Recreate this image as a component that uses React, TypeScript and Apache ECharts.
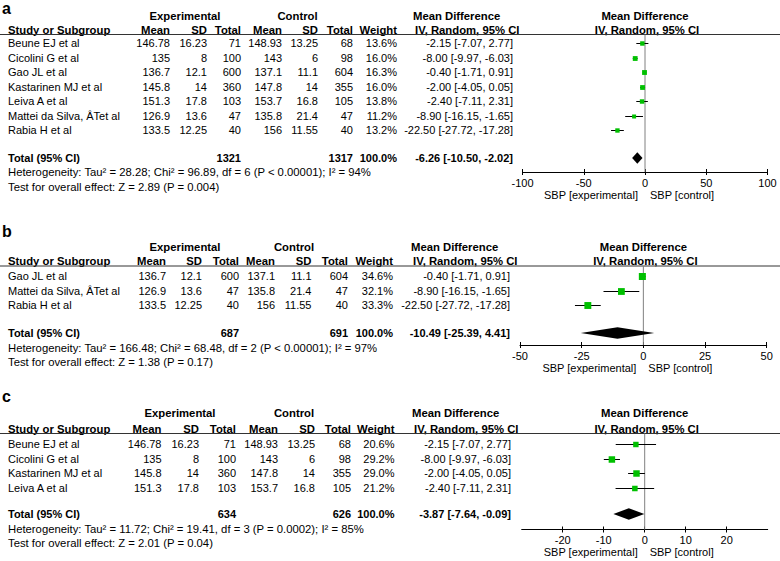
import React, { useEffect, useRef } from "react";
import * as echarts from "echarts";

// ---------------- data ----------------
const studyNames = [
  "Beune EJ et al",
  "Cicolini G et al",
  "Gao JL et al",
  "Kastarinen MJ et al",
  "Leiva A et al",
  "Mattei da Silva, ÂTet al",
  "Rabia H et al",
];
const expMean = [146.78, 135, 136.7, 145.8, 151.3, 126.9, 133.5];
const expSd = [16.23, 8, 12.1, 14, 17.8, 13.6, 12.25];
const expN = [71, 100, 600, 360, 103, 47, 40];
const ctlMean = [148.93, 143, 137.1, 147.8, 153.7, 135.8, 156];
const ctlSd = [13.25, 6, 11.1, 14, 16.8, 21.4, 11.55];
const ctlN = [68, 98, 604, 355, 105, 47, 40];
const meanDiff = [-2.15, -8.0, -0.4, -2.0, -2.4, -8.9, -22.5];
const ciLow = [-7.07, -9.97, -1.71, -4.05, -7.11, -16.15, -27.72];
const ciHigh = [2.77, -6.03, 0.91, 0.05, 2.31, -1.65, -17.28];

const panelLetters = ["a", "b", "c"];
const panelStudies = [
  [0, 1, 2, 3, 4, 5, 6],
  [2, 5, 6],
  [0, 1, 3, 4],
];
const panelWeights = [
  [13.6, 16.0, 16.3, 16.0, 13.8, 11.2, 13.2],
  [34.6, 32.1, 33.3],
  [20.6, 29.2, 29.0, 21.2],
];
const totalExpN = [1321, 687, 634];
const totalCtlN = [1317, 691, 626];
const totalMd = [-6.26, -10.49, -3.87];
const totalLow = [-10.5, -25.39, -7.64];
const totalHigh = [-2.02, 4.41, -0.09];
const heterogeneity = [
  "Heterogeneity: Tau² = 28.28; Chi² = 96.89, df = 6 (P < 0.00001); I² = 94%",
  "Heterogeneity: Tau² = 166.48; Chi² = 68.48, df = 2 (P < 0.00001); I² = 97%",
  "Heterogeneity: Tau² = 11.72; Chi² = 19.41, df = 3 (P = 0.0002); I² = 85%",
];
const overallEffect = [
  "Test for overall effect: Z = 2.89 (P = 0.004)",
  "Test for overall effect: Z = 1.38 (P = 0.17)",
  "Test for overall effect: Z = 2.01 (P = 0.04)",
];
const axisMin = [-100, -50, -30];
const axisMax = [100, 50, 30];
const axisTicks = [
  [-100, -50, 0, 50, 100],
  [-50, -25, 0, 25, 50],
  [-20, -10, 0, 10, 20],
];

// ---------------- layout ----------------
const FONT = "'Liberation Sans', Arial, Helvetica, sans-serif";
const FS = 11;
const FS_HEAD = 11.3;
const FS_NOTE = 11.3;
const PITCH = 14.5;
const LAYOUT = [
  { labelY: 8, expY: 15.5, headY: 30, lineY: 34.5, row0: 43, totalY: 158, hetY: 172, testY: 186.5, axisY: 172,
    cols: [170, 207, 241, 282, 318, 353, 397, 513], expC: 185, ctlC: 297.5, mdL: 413, gridL: 522.5, gridW: 245 },
  { labelY: 231, expY: 246.5, headY: 261, lineY: 266, row0: 276, totalY: 333, hetY: 347.5, testY: 362, axisY: 345,
    cols: [166, 202, 239, 275, 311.5, 348, 393, 510], expC: 185, ctlC: 294, mdL: 411, gridL: 520, gridW: 246.7 },
  { labelY: 396, expY: 413, headY: 429, lineY: 433.5, row0: 444, totalY: 514, hetY: 528.5, testY: 543, axisY: 529.5,
    cols: [161.5, 199, 236, 278, 315, 351, 394.5, 511], expC: 180, ctlC: 294, mdL: 412, gridL: 521.7, gridW: 246 },
];

function txt(x: number, y: number, s: string, align = "left", bold = false, size = FS): any {
  return {
    type: "text",
    x,
    y,
    silent: true,
    style: {
      text: s,
      fontSize: size,
      fontFamily: FONT,
      fontWeight: bold ? "bold" : "normal",
      fill: "#000",
      align,
      verticalAlign: "middle",
      textAlign: align,
      textVerticalAlign: "middle",
    },
  };
}

const fmtCI = (m: number, l: number, h: number) =>
  `${m.toFixed(2)} [${l.toFixed(2)}, ${h.toFixed(2)}]`;

function buildOption() {
  const graphic: any[] = [];
  const grid: any[] = [];
  const xAxis: any[] = [];
  const yAxis: any[] = [];
  const series: any[] = [];

  LAYOUT.forEach((L, p) => {
    const c = L.cols;
    const zeroX = L.gridL + L.gridW / 2;
    const H = (x: number, y: number, s: string, a = "right") => txt(x, y, s, a, true, FS_HEAD);
    // panel letter
    graphic.push(txt(2, L.labelY, panelLetters[p], "left", true, 16));
    // headers
    graphic.push(H(L.expC, L.expY, "Experimental", "center"));
    graphic.push(H(L.ctlC, L.expY, "Control", "center"));
    graphic.push(H(L.mdL, L.expY, "Mean Difference", "left"));
    graphic.push(H(zeroX, L.expY, "Mean Difference", "center"));
    graphic.push(H(8, L.headY, "Study or Subgroup", "left"));
    graphic.push(H(c[0], L.headY, "Mean"));
    graphic.push(H(c[1], L.headY, "SD"));
    graphic.push(H(c[2], L.headY, "Total"));
    graphic.push(H(c[3], L.headY, "Mean"));
    graphic.push(H(c[4], L.headY, "SD"));
    graphic.push(H(c[5], L.headY, "Total"));
    graphic.push(H(c[6], L.headY, "Weight"));
    graphic.push(H(L.mdL + 2, L.headY, "IV, Random, 95% CI", "left"));
    graphic.push(H(zeroX + 2, L.headY, "IV, Random, 95% CI", "center"));
    graphic.push({
      type: "line",
      silent: true,
      shape: { x1: 0, y1: L.lineY, x2: 780, y2: L.lineY },
      style: { stroke: "#333", lineWidth: 1 },
    });

    // study rows
    panelStudies[p].forEach((s, i) => {
      const y = L.row0 + i * PITCH;
      graphic.push(txt(8, y, studyNames[s]));
      graphic.push(txt(c[0], y, String(expMean[s]), "right"));
      graphic.push(txt(c[1], y, String(expSd[s]), "right"));
      graphic.push(txt(c[2], y, String(expN[s]), "right"));
      graphic.push(txt(c[3], y, String(ctlMean[s]), "right"));
      graphic.push(txt(c[4], y, String(ctlSd[s]), "right"));
      graphic.push(txt(c[5], y, String(ctlN[s]), "right"));
      graphic.push(txt(c[6], y, panelWeights[p][i].toFixed(1) + "%", "right"));
      graphic.push(txt(c[7], y, fmtCI(meanDiff[s], ciLow[s], ciHigh[s]), "right"));
    });

    // totals
    graphic.push(txt(8, L.totalY, "Total (95% CI)", "left", true));
    graphic.push(txt(c[2], L.totalY, String(totalExpN[p]), "right", true));
    graphic.push(txt(c[5], L.totalY, String(totalCtlN[p]), "right", true));
    graphic.push(txt(c[6], L.totalY, "100.0%", "right", true));
    graphic.push(txt(c[7], L.totalY, fmtCI(totalMd[p], totalLow[p], totalHigh[p]), "right", true));
    graphic.push(txt(8, L.hetY, heterogeneity[p], "left", false, FS_NOTE));
    graphic.push(txt(8, L.testY, overallEffect[p], "left", false, FS_NOTE));

    // axis captions
    graphic.push(txt(zeroX - 7, L.axisY + 22.5, "SBP [experimental]", "right"));
    graphic.push(txt(zeroX + 5, L.axisY + 22.5, "SBP [control]", "left"));

    // grid & axes
    grid.push({ left: L.gridL, width: L.gridW, top: L.lineY, height: L.axisY - L.lineY, containLabel: false });
    xAxis.push({
      type: "value",
      gridIndex: p,
      position: "bottom",
      min: axisMin[p],
      max: axisMax[p],
      splitLine: { show: false },
      axisLine: { show: true, onZero: false, lineStyle: { color: "#000", width: 1 } },
      axisTick: { show: true, length: 3, lineStyle: { color: "#000" }, customValues: axisTicks[p] },
      axisLabel: {
        show: true,
        margin: 5,
        color: "#000",
        fontSize: 11,
        fontFamily: FONT,
        customValues: axisTicks[p],
      },
    });
    xAxis.push({
      type: "value",
      gridIndex: p,
      position: "bottom",
      min: axisMin[p],
      max: axisMax[p],
      splitLine: { show: false },
      axisLine: { show: false, onZero: false },
      axisTick: { show: true, inside: true, length: 3, lineStyle: { color: "#000" }, customValues: axisTicks[p] },
      axisLabel: { show: false },
    });
    const yMin = (L.lineY - L.row0) / PITCH;
    const yMax = (L.axisY - L.row0) / PITCH;
    yAxis.push({
      type: "value",
      gridIndex: p,
      inverse: true,
      min: yMin,
      max: yMax,
      show: false,
      splitLine: { show: false },
    });

    // zero line
    series.push({
      type: "line",
      xAxisIndex: 2 * p,
      yAxisIndex: p,
      data: [
        [0, yMin],
        [0, yMax],
      ],
      symbol: "none",
      silent: true,
      lineStyle: { color: "#808080", width: 1 },
      z: 1,
    });

    // studies: CI + weighted square
    series.push({
      type: "custom",
      xAxisIndex: 2 * p,
      yAxisIndex: p,
      clip: false,
      silent: true,
      z: 3,
      data: panelStudies[p].map((s, i) => [meanDiff[s], i, ciLow[s], ciHigh[s], panelWeights[p][i]]),
      encode: { x: 0, y: 1 },
      renderItem: (params: any, api: any) => {
        const yv = api.value(1);
        const ctr = api.coord([api.value(0), yv]);
        const lo = api.coord([api.value(2), yv]);
        const hi = api.coord([api.value(3), yv]);
        const size = 1.2 * Math.sqrt(api.value(4));
        const yy = Math.round(ctr[1]) + 0.5;
        return {
          type: "group",
          children: [
            { type: "line", shape: { x1: lo[0], y1: yy, x2: hi[0], y2: yy }, style: { stroke: "#000", lineWidth: 1 } },
            {
              type: "rect",
              shape: { x: ctr[0] - size / 2, y: yy - size / 2, width: size, height: size },
              style: { fill: "#00C000" },
            },
          ],
        };
      },
    });

    // pooled diamond
    const totalIdx = (L.totalY - L.row0) / PITCH;
    series.push({
      type: "custom",
      xAxisIndex: 2 * p,
      yAxisIndex: p,
      clip: false,
      silent: true,
      z: 4,
      data: [[totalMd[p], totalIdx, totalLow[p], totalHigh[p]]],
      encode: { x: 0, y: 1 },
      renderItem: (params: any, api: any) => {
        const yv = api.value(1);
        const ctr = api.coord([api.value(0), yv]);
        const lo = api.coord([api.value(2), yv]);
        const hi = api.coord([api.value(3), yv]);
        const h = 5.8;
        return {
          type: "polygon",
          shape: {
            points: [
              [lo[0], ctr[1]],
              [ctr[0], ctr[1] - h],
              [hi[0], ctr[1]],
              [ctr[0], ctr[1] + h],
            ],
          },
          style: { fill: "#000" },
        };
      },
    });
  });

  return {
    animation: false,
    backgroundColor: "#fff",
    grid,
    xAxis,
    yAxis,
    series,
    graphic: { elements: graphic },
  };
}

export default function App() {
  const ref = useRef<HTMLDivElement>(null);
  useEffect(() => {
    if (!ref.current) return;
    const chart = echarts.init(ref.current, null, { renderer: "svg" });
    chart.setOption(buildOption() as any);
    return () => chart.dispose();
  }, []);
  return (
    <div
      ref={ref}
      style={{ position: "absolute", left: 0, top: 0, width: 780, height: 561, background: "#fff" }}
    />
  );
}
